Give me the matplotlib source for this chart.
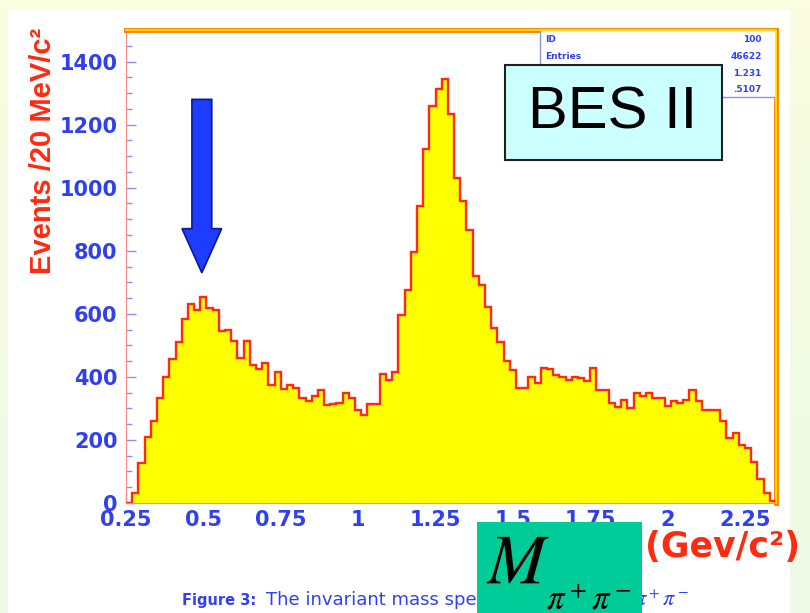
import matplotlib.pyplot as plt
import matplotlib.patches as patches
import numpy as np

# pi+ pi- invariant mass, 20 MeV bins starting at 0.25 GeV
bin_lo = 0.25
bin_w = 0.02
counts = [0, 31, 128, 210, 261, 332, 401, 456, 510, 583,
          632, 611, 653, 618, 611, 546, 549, 514, 461, 514,
          438, 425, 443, 375, 417, 361, 375, 364, 334, 324,
          338, 359, 311, 313, 318, 348, 332, 295, 279, 314,
          314, 409, 390, 417, 597, 674, 795, 941, 1123, 1258,
          1313, 1345, 1235, 1031, 957, 865, 719, 692, 621, 555,
          509, 449, 422, 364, 364, 399, 382, 428, 424, 406,
          401, 391, 399, 396, 388, 428, 359, 357, 318, 304,
          327, 301, 350, 338, 348, 332, 332, 308, 325, 316,
          327, 359, 322, 295, 295, 295, 261, 205, 221, 184,
          174, 131, 75, 33, 5]
edges = bin_lo + bin_w * np.arange(len(counts) + 1)

x_ticks = [0.25, 0.5, 0.75, 1.0, 1.25, 1.5, 1.75, 2.0, 2.25]
x_labels = ["0.25", "0.5", "0.75", "1", "1.25", "1.5", "1.75", "2", "2.25"]
y_ticks = [0, 200, 400, 600, 800, 1000, 1200, 1400]

stat_names = ["ID", "Entries", "Mean", "RMS"]
stat_vals = ["100", "46622", "1.231", ".5107"]

blue = "#3040f0"
red = "#ff2a10"

plt.rcParams["mathtext.fontset"] = "stix"

W, H = 810, 613
fig = plt.figure(figsize=(W / 100, H / 100), dpi=100)

# slide background: pale green-yellow frame, white page
bg = fig.add_axes([0, 0, 1, 1], zorder=-10)
bg.axis("off")
grad = np.linspace(0, 1, 64)[:, None]
bg.imshow(grad, aspect="auto", extent=[0, 1, 0, 1],
          cmap=plt.matplotlib.colors.LinearSegmentedColormap.from_list(
              "bgc", ["#eefae6", "#fafde0"]), origin="lower")
bg.add_patch(patches.Rectangle((8 / W, 0), 782 / W, 1 - 10 / H,
                               facecolor="white", edgecolor="none"))
bg.set_xlim(0, 1)
bg.set_ylim(0, 1)

ax = fig.add_axes([126 / W, 110 / H, 650 / W, 473 / H])
ax.stairs(counts, edges, fill=True, color="#ffff00", zorder=2)
ax.stairs(counts, edges, color=red, linewidth=1.7, zorder=3)
ax.set_xlim(0.25, 2.35)
ax.set_ylim(0, 1500)

ax.set_xticks(x_ticks)
ax.set_xticklabels(x_labels)
ax.set_xticks(np.arange(0.375, 2.35, 0.25), minor=True)
ax.set_yticks(y_ticks)
ax.set_yticks(np.arange(0, 1500, 50), minor=True)
ax.tick_params(which="both", direction="in", color="#8890f0")
ax.tick_params(which="major", length=7, width=1, labelsize=15, labelcolor=blue, pad=6)
ax.tick_params(axis="x", pad=5)
ax.tick_params(which="minor", length=4, width=1)
for lab in ax.get_xticklabels() + ax.get_yticklabels():
    lab.set_fontweight("bold")

ax.spines["left"].set_color("#ff8a8a")
ax.spines["bottom"].set_color("#ff8a8a")
for s in ["top", "right"]:
    ax.spines[s].set_color("#ff8000")
    ax.spines[s].set_linewidth(3.5)
ax.plot([0, 1, 1], [1, 1, 0], transform=ax.transAxes, color="#ffee00",
        lw=1.2, clip_on=False, zorder=5)

# statistics box
ax.add_patch(patches.Rectangle((0.637, 0.858), 0.363, 0.142, transform=ax.transAxes,
                               facecolor="white", edgecolor="#8890f0", lw=1, zorder=4))
for i, (n, v) in enumerate(zip(stat_names, stat_vals)):
    yy = 0.979 - i * 0.035
    ax.text(0.645, yy, n, transform=ax.transAxes, color=blue, fontsize=6.5,
            fontweight="bold", va="center", zorder=5)
    ax.text(0.978, yy, v, transform=ax.transAxes, color=blue, fontsize=6.5,
            fontweight="bold", va="center", ha="right", zorder=5)

# arrow pointing at the low-mass bump
ax.add_patch(patches.FancyArrow(0.495, 1280, 0, -550, width=0.064, head_width=0.128,
                                head_length=140, length_includes_head=True,
                                facecolor="#1e3cff", edgecolor="#0a1a90", lw=1.2, zorder=6))

fig.text(43 / W, 1 - 151 / H, "Events /20 MeV/c²", rotation=90, ha="center",
         va="center", color=red, fontsize=21, fontweight="bold",
         family="Liberation Sans")
fig.text(800 / W, 1 - 547 / H, "(Gev/c²)", ha="right", va="center", color=red,
         fontsize=25, fontweight="bold")

# BES II label
fig.add_artist(patches.Rectangle((505 / W, 1 - 160 / H), 217 / W, 95 / H,
                                 transform=fig.transFigure, facecolor="#ccffff",
                                 edgecolor="#202020", lw=1.5, zorder=8))
fig.text(613 / W, 1 - 113 / H, "BES II", ha="center", va="center", fontsize=43,
         family="Liberation Sans", zorder=9)

# caption (partly hidden behind the M box)
fig.text(182 / W, 1 - 600 / H, "Figure 3:", color=blue, fontsize=10.5, fontweight="bold",
         va="center")
fig.text(266 / W, 1 - 600 / H, "The invariant mass spectrum of", color=blue, fontsize=13,
         va="center")
fig.text(689 / W, 1 - 600 / H, r"$\pi^+\pi^-$", color=blue, fontsize=16, va="center",
         ha="right")

# M box
fig.add_artist(patches.Rectangle((477 / W, 0), 165 / W, 91 / H, transform=fig.transFigure,
                                 facecolor="#00cc99", edgecolor="none", zorder=8))
fig.text(486 / W, 1 - 583 / H, r"$M$", fontsize=50, va="baseline",
         color="black", zorder=9)
fig.text(546 / W, 1 - 610 / H, r"$\pi^+\pi^-$", fontsize=25, va="baseline",
         color="black", zorder=9)

fig.savefig("out.png", dpi=100)
